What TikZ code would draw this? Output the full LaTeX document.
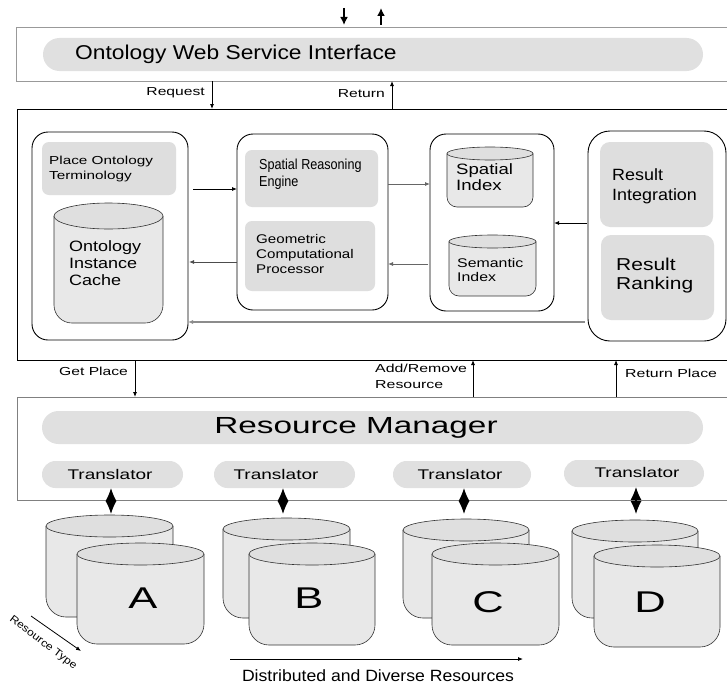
\documentclass[tikz,border=0pt]{standalone}
\usepackage{fontspec}
\setmainfont{Liberation Sans}
\usetikzlibrary{arrows.meta}

% size, baselineskip, horizontal stretch
\newcommand\lblfont[3]{\fontsize{#1}{#2}\selectfont\addfontfeature{FakeStretch=#3}}

% barrel-shaped store: x1, x2, ytop, ybottom, y-radius of lid, corner radius, name
\newcommand\drum[7]{%
  \draw[drumline, fill=drumbody, rounded corners=#6pt]
    (#1,{#3+#5}) -- (#1,#4) -- (#2,#4) -- (#2,{#3+#5});
  \draw[drumline, fill=drumlid]
    ({(#1+#2)/2},{#3+#5}) ellipse [x radius={(#2-#1)/2}, y radius=#5];
  \coordinate (#7) at ({(#1+#2)/2},#3);
}

\definecolor{pillgray}{HTML}{E0E0E0}
\definecolor{cellgray}{HTML}{DEDEDE}
\definecolor{drumbody}{HTML}{E8E8E8}
\definecolor{drumlid}{HTML}{DFDFDF}

\tikzset{
  frame/.style={rectangle, inner sep=0pt, outer sep=0pt},
  pill/.style={frame, fill=pillgray, rounded corners=#1},
  pill/.default=13.5pt,
  cell/.style={frame, fill=cellgray, rounded corners=7pt},
  group/.style={frame, draw=black, line width=0.9pt, rounded corners=#1},
  group/.default=16pt,
  drumline/.style={draw=black!80, line width=0.6pt},
  txt/.style={inner sep=0pt, anchor=west, align=left, text=black},
  ctxt/.style={inner sep=0pt, text=black},
  trfont/.style={font={\lblfont{14}{16}{1.36}}},
  letter/.style={ctxt, font={\lblfont{30}{32}{1.45}}},
  arr/.style={-{Latex[length=5pt,width=4pt]}, line width=0.8pt},
  grayarr/.style={arr, draw=black!60},
  bigarr/.style={-{Latex[length=8pt,width=8pt]}, line width=1.6pt},
  duplex/.style={{Latex[length=13pt,width=11pt]}-{Latex[length=13pt,width=11pt]}, line width=1.2pt},
}

\begin{document}
\begin{tikzpicture}[x=1pt,y=-1pt]
\useasboundingbox (0,0) rectangle (727,685);
\clip (0,0) rectangle (727,685);
\fill[white] (0,0) rectangle (727,685);

% ---------- web service layer ----------
\node[frame, draw=black!40, line width=0.8pt, minimum width=724pt, minimum height=54pt] (topbox) at (378,54) {};
\node[pill=16.5pt, minimum width=660pt, minimum height=33pt] (owsi) at (373,54.5) {};
\node[txt, font={\lblfont{20}{24}{1.14}}] (owsit) at (75,54.5) {Ontology Web Service Interface};

\coordinate (inflow) at (344,8);
\coordinate (outflow) at (381,8);
\draw[bigarr, shorten >=2pt] (inflow) -- (inflow |- topbox.north);
\draw[bigarr, shorten <=2pt] (outflow |- topbox.north) -- (outflow);

% ---------- core reasoning layer ----------
\node[frame, draw=black, line width=0.95pt, minimum width=723pt, minimum height=251pt] (mainbox) at (378.5,234.5) {};

\coordinate (reqx) at (212,0);
\coordinate (retx) at (392,0);
\draw[arr] (reqx |- topbox.south) -- (reqx |- mainbox.north);
\draw[arr] (retx |- mainbox.north) -- (retx |- topbox.south);
\node[txt, anchor=east, font={\lblfont{11.6}{14}{1.35}}] (reqt) at (205,93) {Request};
\node[txt, anchor=east, font={\lblfont{11.6}{14}{1.35}}] (rett) at (385,94) {Return};

% ontology group
\node[group, minimum width=156pt, minimum height=208pt] (lbox) at (110,236) {};
\node[cell, minimum width=134pt, minimum height=53pt] (pot) at (109,168.5) {};
\node[txt, font={\lblfont{11.6}{15}{1.32}}] (pott) at (49,168.5) {Place Ontology\\Terminology};
\drum{54}{163}{203}{323}{13}{18}{oictop}
\node[txt, font={\lblfont{15}{17}{1.2}}] (oict) at (69,263) {Ontology\\Instance\\Cache};

% reasoning group
\node[group, minimum width=151pt, minimum height=176pt] (mbox) at (312.5,222) {};
\node[cell, minimum width=133pt, minimum height=57pt] (sre) at (311.5,178.5) {};
\node[txt, font={\lblfont{14.5}{17}{0.87}}] (sret) at (259,174.5) {Spatial Reasoning\\Engine};
\node[cell, minimum width=130pt, minimum height=70pt] (gcp) at (310,256) {};
\node[txt, font={\lblfont{12.6}{15}{1.2}}] (gcpt) at (256,254) {Geometric\\Computational\\Processor};

% index group
\node[group, minimum width=124pt, minimum height=177pt] (ibox) at (492,222.5) {};
\drum{447}{533}{147}{207}{6.5}{10}{sitop}
\node[txt, font={\lblfont{15}{16}{1.24}}] (sit) at (456,177) {Spatial\\Index};
\drum{449}{536}{235}{296}{6.5}{10}{seitop}
\node[txt, font={\lblfont{12.6}{14}{1.26}}] (seit) at (457,270) {Semantic\\Index};

% result group
\node[group=22pt, minimum width=138pt, minimum height=210pt] (rbox) at (657,236) {};
\node[cell, rounded corners=10pt, minimum width=113pt, minimum height=85pt] (ri) at (656.5,184.5) {};
\node[txt, font={\lblfont{16.3}{20}{1.1}}] (rit) at (612,186) {Result\\Integration};
\node[cell, rounded corners=10pt, minimum width=113pt, minimum height=85pt] (rr) at (657.5,277.5) {};
\node[txt, font={\lblfont{17.2}{19}{1.22}}] (rrt) at (616,275.5) {Result\\Ranking};

% flows between groups
\draw[arr, shorten <=5pt] (lbox.east |- 0,189) -- (mbox.west |- 0,189);
\draw[grayarr, draw=black!70, shorten >=1pt] (mbox.west |- 0,262) -- (lbox.east |- 0,262);
\draw[grayarr] (mbox.east |- 0,184) -- (ibox.west |- 0,184);
\draw[grayarr, shorten <=2pt] (ibox.west |- 0,264) -- (mbox.east |- 0,264);
\draw[arr, shorten <=1pt] (rbox.west |- 0,223) -- (ibox.east |- 0,223);
\draw[grayarr, draw=black!45, line width=1.2pt, shorten <=3pt] (rbox.west |- 0,322) -- (lbox.east |- 0,322);

% ---------- resource layer ----------
\node[frame, draw=black!50, line width=0.9pt, minimum width=723pt, minimum height=103pt] (rmbox) at (378.5,448.5) {};
\node[pill=16.5pt, minimum width=661pt, minimum height=33pt] (rm) at (372.5,427.5) {};
\node[ctxt, font={\lblfont{23.3}{26}{1.43}}] (rmt) at (356,427.5) {Resource Manager};

\coordinate (getx) at (135,0);
\coordinate (addx) at (473,0);
\coordinate (rpx) at (616,0);
\draw[arr] (getx |- mainbox.south) -- (getx |- rmbox.north);
\draw[arr] (addx |- rmbox.north) -- (addx |- mainbox.south);
\draw[arr] (rpx |- rmbox.north) -- (rpx |- mainbox.south);
\node[txt, font={\lblfont{11.6}{14}{1.35}}] (gett) at (59,371) {Get Place};
\node[txt, font={\lblfont{11.6}{16}{1.37}}] (addt) at (375,376) {Add/Remove\\Resource};
\node[txt, font={\lblfont{11.6}{14}{1.37}}] (rpt) at (625,373) {Return Place};

\node[pill, minimum width=141pt, minimum height=27pt] (t1) at (112.5,474.5) {};
\node[pill, minimum width=141pt, minimum height=27pt] (t2) at (284.5,474.5) {};
\node[pill, minimum width=138pt, minimum height=27pt] (t3) at (462,474.5) {};
\node[pill, minimum width=140pt, minimum height=27pt] (t4) at (634,473.5) {};
\node[ctxt, trfont] (t1t) at (110,474.5) {Translator};
\node[ctxt, trfont] (t2t) at (276,474.5) {Translator};
\node[ctxt, trfont] (t3t) at (460,474.5) {Translator};
\node[ctxt, trfont] (t4t) at (637,472) {Translator};

% ---------- data sources ----------
\drum{46}{173}{515}{617}{11}{20}{dbAback}
\drum{77}{204}{543}{644}{11}{20}{dbA}
\drum{223}{350}{518}{618}{11}{20}{dbBback}
\drum{249}{375}{543}{645}{11}{20}{dbB}
\drum{403}{529}{519}{618}{11}{20}{dbCback}
\drum{432}{559}{543}{645}{11}{20}{dbC}
\drum{572}{698}{520}{618}{11}{20}{dbDback}
\drum{594}{720}{545}{647}{11}{20}{dbD}

\node[letter] (la) at (143,598) {A};
\node[letter] (lb) at (309,598) {B};
\node[letter] (lc) at (488,602) {C};
\node[letter] (ld) at (650,602) {D};

\coordinate (linkA) at (111,514);
\coordinate (linkB) at (283,514);
\coordinate (linkC) at (464,514);
\coordinate (linkD) at (636,514);
\draw[duplex] (t1.south -| linkA) -- (linkA);
\draw[duplex] (t2.south -| linkB) -- (linkB);
\draw[duplex] (t3.south -| linkC) -- (linkC);
\draw[duplex] (t4.south -| linkD) -- (linkD);

% axes of the resource space
\coordinate (typeS) at (31,616);
\coordinate (typeE) at (81,651);
\draw[arr] (typeS) -- (typeE);
\node[inner sep=0pt, rotate=-37, font={\lblfont{10.5}{12}{1.15}}] (typet) at (43,643) {Resource Type};

\coordinate (distS) at (230,659);
\coordinate (distE) at (523,659);
\draw[arr] (distS) -- (distE);
\node[ctxt, font={\lblfont{16.3}{18}{1.08}}] (distt) at (378,676) {Distributed and Diverse Resources};

\end{tikzpicture}
\end{document}
